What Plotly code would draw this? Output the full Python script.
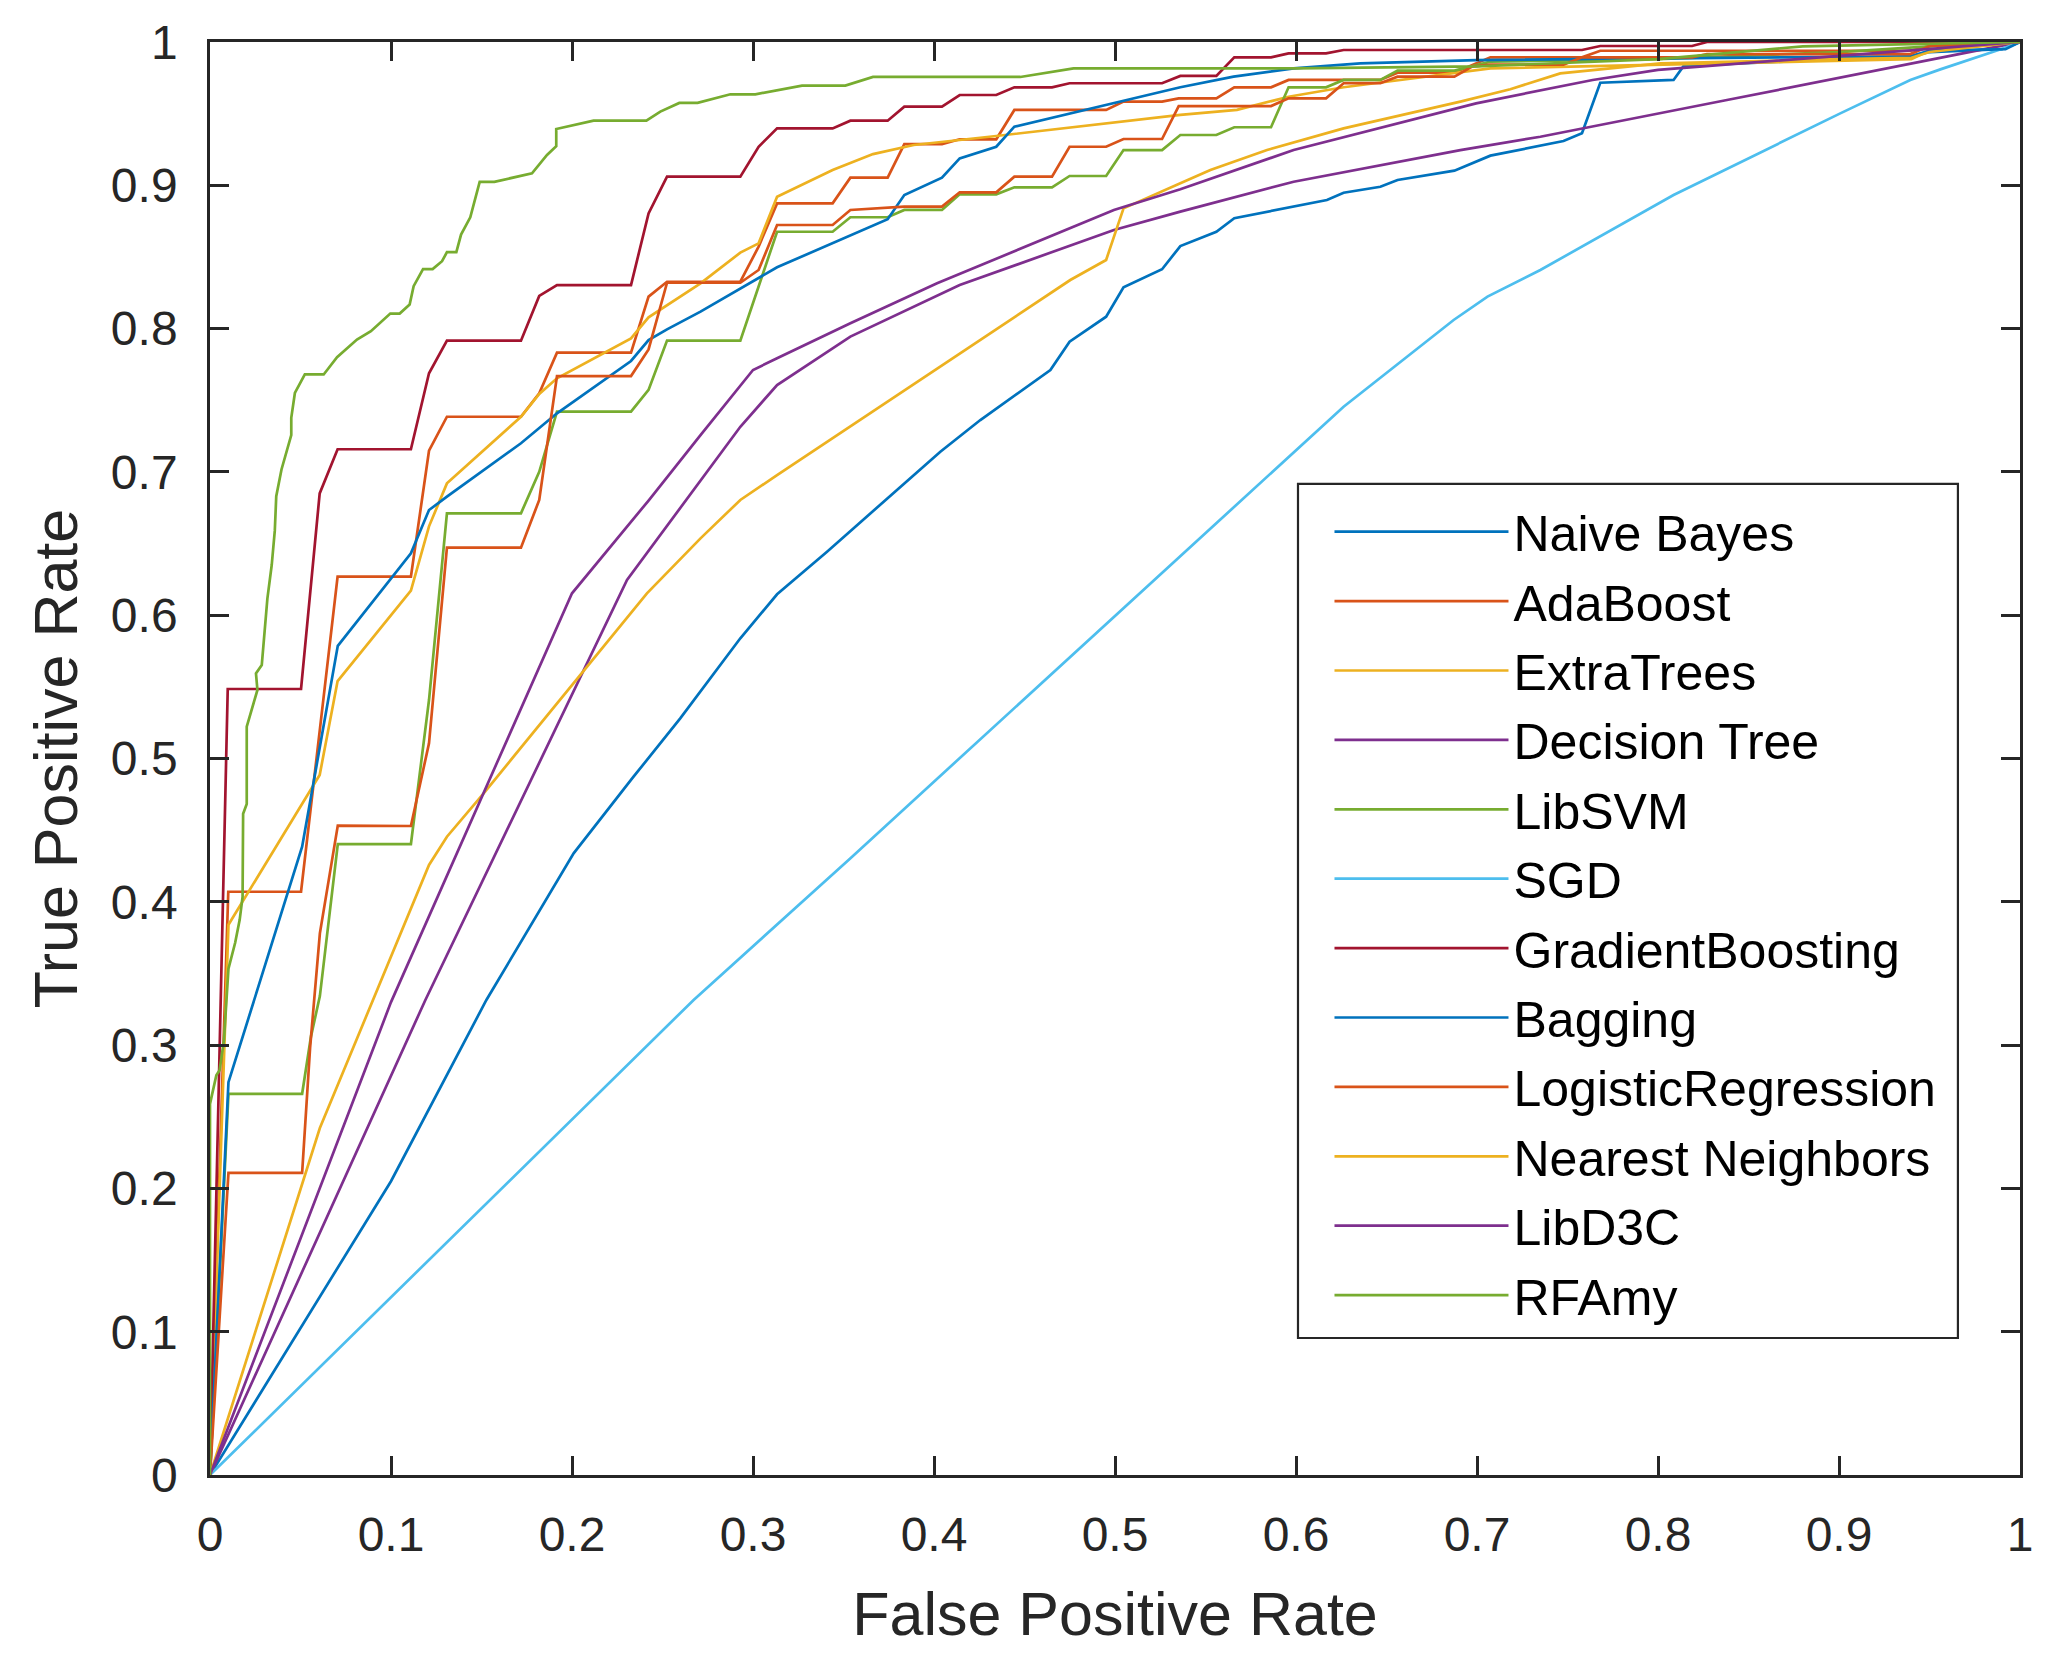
import plotly.graph_objects as go

# ROC curves (FPR on x, TPR on y)
names = ["Naive Bayes", "AdaBoost", "ExtraTrees", "Decision Tree", "LibSVM", "SGD",
         "GradientBoosting", "Bagging", "LogisticRegression", "Nearest Neighbors",
         "LibD3C", "RFAmy"]

# MATLAB default colour order, repeated after 7 series
colors = ["#0072BD", "#D95319", "#EDB120", "#7E2F8E", "#77AC30", "#4DBEEE",
          "#A2142F", "#0072BD", "#D95319", "#EDB120", "#7E2F8E", "#77AC30"]

nb_fpr = [0, 0.1, 0.1527, 0.1788, 0.2009, 0.234, 0.2598, 0.293, 0.3133, 0.3409,
          0.3731, 0.4035, 0.4256, 0.4643, 0.4749, 0.4951, 0.5047, 0.526, 0.5361, 0.556,
          0.5659, 0.6171, 0.6263, 0.6466, 0.6561, 0.6875, 0.7074, 0.7478, 0.758, 0.7681,
          0.8086, 0.8142, 0.9, 0.94, 0.95, 0.99, 1.0]
nb_tpr = [0, 0.205, 0.3315, 0.3873, 0.4338, 0.4873, 0.528, 0.5839, 0.6146, 0.6443,
          0.6804, 0.7141, 0.7362, 0.7711, 0.7909, 0.8083, 0.8288, 0.8414, 0.8576, 0.8676,
          0.877, 0.8897, 0.8948, 0.899, 0.9037, 0.9102, 0.9207, 0.9309, 0.9363, 0.9716,
          0.9735, 0.9833, 0.988, 0.99, 0.993, 0.995, 1.0]

ada_fpr = [0, 0.0101, 0.0503, 0.0705, 0.111, 0.121, 0.1309, 0.1718, 0.1819, 0.1917,
           0.2326, 0.2423, 0.2525, 0.293, 0.3031, 0.3133, 0.344, 0.3538, 0.3744, 0.3836,
           0.4044, 0.4142, 0.4344, 0.4444, 0.4951, 0.5047, 0.526, 0.5352, 0.556, 0.5659,
           0.5862, 0.5959, 0.6466, 0.6561, 0.6875, 0.7074, 0.758, 0.7681, 0.9394, 0.9501, 1.0]
ada_tpr = [0, 0.407, 0.407, 0.6269, 0.6269, 0.7148, 0.7385, 0.7385, 0.7548, 0.7832,
           0.7832, 0.8223, 0.8327, 0.8327, 0.8572, 0.8874, 0.8874, 0.9053, 0.9053, 0.9288,
           0.9288, 0.9321, 0.9321, 0.9526, 0.9526, 0.9584, 0.9584, 0.9607, 0.9607, 0.9684,
           0.9684, 0.9735, 0.9735, 0.9786, 0.9786, 0.9893, 0.9893, 0.9939, 0.9939, 0.9972, 1.0]

et_fpr = [0, 0.0102, 0.0606, 0.0705, 0.111, 0.121, 0.1309, 0.1718, 0.1819, 0.1917,
          0.2326, 0.2423, 0.271, 0.293, 0.3031, 0.3133, 0.344, 0.3663, 0.3888, 0.4344,
          0.5361, 0.5674, 0.5959, 0.6263, 0.7074, 0.8013, 0.9, 0.94, 0.95, 1.0]
et_tpr = [0, 0.384, 0.4885, 0.554, 0.6171, 0.662, 0.692, 0.7385, 0.7544, 0.7653,
          0.7932, 0.8079, 0.8316, 0.853, 0.8595, 0.892, 0.9107, 0.9218, 0.9281, 0.9344,
          0.9491, 0.9526, 0.9618, 0.9684, 0.9816, 0.984, 0.987, 0.988, 0.994, 1.0]

dt_fpr = [0, 0.119, 0.2304, 0.2626, 0.293, 0.3133, 0.3538, 0.4142, 0.4994, 0.5361,
          0.5987, 0.6908, 0.735, 0.8381, 0.9394, 1.0]
dt_tpr = [0, 0.3315, 0.6246, 0.68, 0.7315, 0.7606, 0.7944, 0.8304, 0.8688, 0.8816,
          0.9025, 0.9246, 0.9339, 0.9595, 0.9851, 1.0]

svm_fpr = [0, 0.0102, 0.0509, 0.0558, 0.0607, 0.0706, 0.111, 0.121, 0.1309, 0.1718,
           0.1819, 0.1917, 0.2326, 0.2423, 0.2525, 0.293, 0.3133, 0.344, 0.3538, 0.3744,
           0.3836, 0.4044, 0.4142, 0.4344, 0.4444, 0.4652, 0.4749, 0.4951, 0.5047, 0.526,
           0.5361, 0.556, 0.5659, 0.5862, 0.5959, 0.6166, 0.6263, 0.6466, 0.6561, 0.6875,
           0.7074, 0.8, 0.9, 0.95, 1.0]
svm_tpr = [0, 0.266, 0.266, 0.3061, 0.3342, 0.4403, 0.4403, 0.5408, 0.6711, 0.6711,
           0.7001, 0.742, 0.742, 0.7572, 0.7916, 0.7916, 0.8676, 0.8676, 0.8777, 0.8777,
           0.8828, 0.8828, 0.8937, 0.8937, 0.8986, 0.8986, 0.9065, 0.9065, 0.9246, 0.9246,
           0.9351, 0.9351, 0.9405, 0.9405, 0.9684, 0.9684, 0.9735, 0.9735, 0.98, 0.98,
           0.9863, 0.988, 0.993, 0.997, 1.0]

sgd_fpr = [0, 0.2672, 0.3537, 0.5361, 0.5517, 0.6263, 0.6871, 0.7058, 0.735, 0.8086,
           0.9007, 0.9394, 0.956, 0.991, 1.0]
sgd_tpr = [0, 0.3315, 0.4303, 0.6408, 0.6595, 0.7455, 0.806, 0.8223, 0.8409, 0.8932,
           0.9502, 0.9735, 0.9809, 0.9956, 1.0]

gb_fpr = [0, 0.0098, 0.0503, 0.0606, 0.0705, 0.111, 0.121, 0.1309, 0.1718, 0.1819,
          0.1917, 0.2326, 0.2423, 0.2525, 0.293, 0.3031, 0.3133, 0.344, 0.3538, 0.3744,
          0.3836, 0.4044, 0.4142, 0.4344, 0.4444, 0.4652, 0.4749, 0.526, 0.5361, 0.556,
          0.5659, 0.5862, 0.5959, 0.6166, 0.6263, 0.758, 0.7681, 0.8188, 0.8271, 1.0]
gb_tpr = [0, 0.5485, 0.5485, 0.685, 0.7158, 0.7158, 0.7688, 0.7916, 0.7916, 0.8228,
          0.8304, 0.8304, 0.8804, 0.906, 0.906, 0.9269, 0.9397, 0.9397, 0.9451, 0.9451,
          0.9549, 0.9549, 0.963, 0.963, 0.9684, 0.9684, 0.9712, 0.9712, 0.9763, 0.9763,
          0.9893, 0.9893, 0.9921, 0.9921, 0.9944, 0.9944, 0.9972, 0.9972, 1.0, 1.0]

bag_fpr = [0, 0.0102, 0.0509, 0.0706, 0.111, 0.121, 0.1309, 0.1718, 0.1917, 0.2326,
           0.2423, 0.2525, 0.271, 0.3133, 0.3744, 0.3836, 0.4044, 0.4142, 0.4344, 0.4444,
           0.5361, 0.5655, 0.5987, 0.6355, 0.6995, 0.8013, 0.9394, 0.9501, 0.992, 1.0]
bag_tpr = [0, 0.2741, 0.4384, 0.5786, 0.6432, 0.6734, 0.6827, 0.72, 0.7409, 0.7774,
           0.792, 0.7995, 0.8118, 0.8428, 0.8763, 0.8932, 0.9053, 0.9188, 0.9269, 0.9409,
           0.9684, 0.9758, 0.9816, 0.9851, 0.9874, 0.9886, 0.99, 0.994, 0.995, 1.0]

lr_fpr = [0, 0.0102, 0.0509, 0.0553, 0.0607, 0.0706, 0.111, 0.121, 0.1309, 0.1718,
          0.1819, 0.1917, 0.2326, 0.2423, 0.2525, 0.293, 0.3031, 0.3133, 0.344, 0.3538,
          0.3836, 0.4044, 0.4142, 0.4344, 0.4444, 0.4652, 0.4749, 0.4951, 0.5047, 0.526,
          0.5352, 0.5862, 0.5959, 0.6166, 0.6263, 0.6466, 0.6561, 0.6875, 0.6973, 0.7074,
          0.7478, 0.758, 0.8188, 0.8271, 0.9394, 0.9501, 1.0]
lr_tpr = [0, 0.2108, 0.2108, 0.2981, 0.378, 0.4532, 0.4529, 0.5106, 0.6471, 0.6471,
          0.6804, 0.7669, 0.7669, 0.7855, 0.832, 0.832, 0.8409, 0.8723, 0.8723, 0.8828,
          0.8851, 0.8851, 0.8951, 0.8951, 0.906, 0.906, 0.9269, 0.9269, 0.9323, 0.9323,
          0.9553, 0.9553, 0.9607, 0.9607, 0.9712, 0.9712, 0.9758, 0.9758, 0.9828, 0.9842,
          0.9842, 0.9893, 0.9893, 0.9916, 0.9916, 0.9972, 1.0]

knn_fpr = [0, 0.0607, 0.121, 0.1309, 0.1512, 0.2414, 0.271, 0.293, 0.3133, 0.4753,
           0.4951, 0.5047, 0.5361, 0.5527, 0.584, 0.6263, 0.6908, 0.7184, 0.746, 0.8013,
           0.9, 0.94, 0.95, 1.0]
knn_tpr = [0, 0.2421, 0.4257, 0.4454, 0.4757, 0.6153, 0.6536, 0.6804, 0.6978, 0.8339,
           0.8479, 0.8839, 0.9014, 0.9107, 0.9246, 0.9397, 0.9584, 0.967, 0.9781, 0.9851,
           0.988, 0.989, 0.993, 1.0]

d3c_fpr = [0, 0.1, 0.2, 0.2423, 0.271, 0.3, 0.3133, 0.3538, 0.4017, 0.4441,
           0.4994, 0.5361, 0.5987, 0.6995, 0.7639, 0.8, 1.0]
d3c_tpr = [0, 0.33, 0.6153, 0.68, 0.7257, 0.7711, 0.7793, 0.8037, 0.8316, 0.8537,
           0.8828, 0.8972, 0.9246, 0.9572, 0.9735, 0.9806, 1.0]

rfa_fpr = [0, 0, 0.0035, 0.0053, 0.0077, 0.009, 0.0102, 0.0139, 0.0164, 0.018,
           0.0183, 0.0203, 0.0203, 0.0262, 0.0254, 0.0286, 0.0317, 0.0341, 0.0358, 0.0366,
           0.0395, 0.0449, 0.0449, 0.0469, 0.0524, 0.0628, 0.0702, 0.0812, 0.0889, 0.0996,
           0.1048, 0.1103, 0.1125, 0.1177, 0.123, 0.1282, 0.1309, 0.1361, 0.1387, 0.1438,
           0.149, 0.1571, 0.1779, 0.1862, 0.1913, 0.1913, 0.2119, 0.2411, 0.2488, 0.2593,
           0.2694, 0.2875, 0.3013, 0.3271, 0.351, 0.3663, 0.4477, 0.4771, 0.6, 0.7,
           0.8, 0.88, 1.0]
rfa_tpr = [0, 0.259, 0.279, 0.2825, 0.3033, 0.3314, 0.3533, 0.3714, 0.3874, 0.4034,
           0.4614, 0.4683, 0.5222, 0.5478, 0.5594, 0.5652, 0.6116, 0.635, 0.659, 0.683,
           0.7017, 0.7257, 0.7378, 0.7551, 0.768, 0.768, 0.78, 0.7924, 0.7982, 0.8105,
           0.8105, 0.8168, 0.8296, 0.8415, 0.8415, 0.847, 0.8533, 0.8533, 0.8656, 0.8777,
           0.9024, 0.9024, 0.9084, 0.9212, 0.9273, 0.9393, 0.9451, 0.9451, 0.9514, 0.9575,
           0.9575, 0.9635, 0.9635, 0.9696, 0.9696, 0.9756, 0.9756, 0.9816, 0.9816, 0.983,
           0.988, 0.997, 1.0]

fprs = [nb_fpr, ada_fpr, et_fpr, dt_fpr, svm_fpr, sgd_fpr, gb_fpr, bag_fpr,
        lr_fpr, knn_fpr, d3c_fpr, rfa_fpr]
tprs = [nb_tpr, ada_tpr, et_tpr, dt_tpr, svm_tpr, sgd_tpr, gb_tpr, bag_tpr,
        lr_tpr, knn_tpr, d3c_tpr, rfa_tpr]

ticks = [0, 0.1, 0.2, 0.3, 0.4, 0.5, 0.6, 0.7, 0.8, 0.9, 1]
tick_text = ["0", "0.1", "0.2", "0.3", "0.4", "0.5", "0.6", "0.7", "0.8", "0.9", "1"]

FONT = "Liberation Sans, Arial, Helvetica, sans-serif"
INK = "#262626"

fig = go.Figure()
for name, col, fx, ty in zip(names, colors, fprs, tprs):
    fig.add_trace(go.Scatter(
        x=fx, y=ty, mode="lines", name=name, legendgroup=name,
        line=dict(color=col, width=2.7),
    ))

axis_common = dict(
    range=[0, 1], tickvals=ticks, ticktext=tick_text,
    showgrid=False, zeroline=False,
    showline=True, linecolor=INK, linewidth=2.6, mirror="ticks",
    ticks="inside", ticklen=19, tickwidth=2.6, tickcolor=INK,
    tickfont=dict(family=FONT, size=48, color=INK),
    automargin=False,
)

fig.update_xaxes(**axis_common, ticklabelstandoff=16,
                 title=dict(text="False Positive Rate", standoff=39,
                            font=dict(family=FONT, size=61, color=INK)))
fig.update_yaxes(**axis_common, ticklabelstandoff=20,
                 title=dict(text="True Positive Rate", standoff=14,
                            font=dict(family=FONT, size=61, color=INK)))

# legend frame (MATLAB style box), entries come from the plotly legend
fig.add_shape(type="rect", xref="paper", yref="paper",
              x0=0.6011, x1=0.9657, y0=0.0956, y1=0.6916,
              line=dict(color=INK, width=2.2), fillcolor="white", layer="above")

# page body adds an 8px margin, so the figure is 16px smaller than the window
fig.update_layout(
    width=2033, height=1640,
    margin=dict(l=202, r=21, t=34, b=173),
    paper_bgcolor="white", plot_bgcolor="white",
    font=dict(family=FONT, color=INK),
    legend=dict(
        x=0.6185, y=0.6855, xanchor="left", yanchor="top",
        bgcolor="rgba(0,0,0,0)", borderwidth=0,
        font=dict(family=FONT, size=50, color="black"),
        itemwidth=174, tracegroupgap=1.4,
    ),
)

fig.write_html("out.html")
